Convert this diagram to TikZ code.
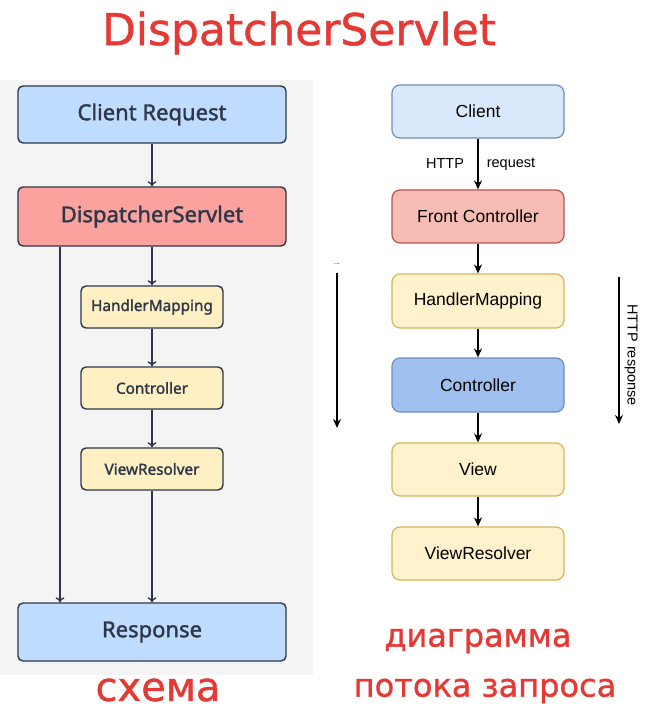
\documentclass[tikz,border=0pt]{standalone}
\usepackage{fontspec}
\setmainfont{Liberation Sans}
\newfontfamily\leftfont[FakeBold=1.6]{Noto Sans}
\newfontfamily\redfont[FakeBold=1.0]{DejaVu Sans}
\usetikzlibrary{arrows.meta}
\definecolor{redtxt}{HTML}{E53935}
\definecolor{bgpanel}{HTML}{F4F4F5}
\definecolor{slate}{HTML}{2D3748}
\definecolor{lblue}{HTML}{BFDBFE}
\definecolor{lred}{HTML}{FCA29E}
\definecolor{lyel}{HTML}{FEF0C3}
\definecolor{dblueF}{HTML}{DAE8FC}
\definecolor{dblueD}{HTML}{6C8EBF}
\definecolor{dredF}{HTML}{F7BDB5}
\definecolor{dredD}{HTML}{B85450}
\definecolor{dyelF}{HTML}{FFF2CC}
\definecolor{dyelD}{HTML}{D6B656}
\definecolor{dmidF}{HTML}{9FC0EE}
\tikzset{
  lbox/.style={draw=slate, line width=1.4pt, rounded corners=5pt, font=\leftfont\fontsize{22}{26}\selectfont, text=slate, inner sep=0pt},
  lsmall/.style={lbox, font=\leftfont\fontsize{15.3}{18}\selectfont},
  rbox/.style={line width=1.2pt, rounded corners=8pt, font=\fontsize{17.5}{21}\selectfont, text=black, inner sep=0pt},
  larrow/.style={draw=slate, line width=1.4pt, -{To[length=5pt,width=9pt]}},
  rarrow/.style={draw=black, line width=1.3pt, -{Stealth[length=9pt,width=8pt]}},
  redlabel/.style={text=redtxt, font=\redfont\fontsize{44}{50}\selectfont},
  redmid/.style={text=redtxt, font=\redfont\fontsize{40}{46}\selectfont},
  redsmall/.style={text=redtxt, font=\redfont\fontsize{32}{38}\selectfont},
  rlabel/.style={font=\fontsize{14.5}{17}\selectfont},
}
\begin{document}
\begin{tikzpicture}[x=1pt,y=-1pt]
\useasboundingbox (0,0) rectangle (658,719);
\fill[white] (0,0) rectangle (658,719);
\fill[bgpanel] (0,80) rectangle (313,675);
% title
\node[redlabel] (title) at (299,33) {DispatcherServlet};
% left diagram
\node[lbox, fill=lblue, minimum width=268pt, minimum height=57pt] (cr) at (152,114.5) {Client Request};
\node[lbox, fill=lred, minimum width=268pt, minimum height=59pt] (ds) at (152,216.5) {DispatcherServlet};
\node[lsmall, fill=lyel, minimum width=142pt, minimum height=42pt] (hm) at (152,307) {HandlerMapping};
\node[lsmall, fill=lyel, minimum width=142pt, minimum height=42pt] (ct) at (152,388) {Controller};
\node[lsmall, fill=lyel, minimum width=142pt, minimum height=42pt] (vr) at (152,469) {ViewResolver};
\node[lbox, fill=lblue, minimum width=268pt, minimum height=58pt] (rs) at (152,632) {Response};
\coordinate (lx) at (60,0);
\draw[larrow] (cr) -- (ds);
\draw[larrow] (ds) -- (hm);
\draw[larrow] (hm) -- (ct);
\draw[larrow] (ct) -- (vr);
\draw[larrow] (vr) -- (rs);
\draw[larrow] (ds.south -| lx) -- (rs.north -| lx);
\node[redmid] (schema) at (158,690) {схема};
% right diagram
\node[rbox, draw=dblueD, fill=dblueF, minimum width=172pt, minimum height=53pt] (cl) at (478,111.5) {Client};
\node[rbox, draw=dredD, fill=dredF, minimum width=172pt, minimum height=53pt] (fc) at (478,216.5) {Front Controller};
\node[rbox, draw=dyelD, fill=dyelF, minimum width=172pt, minimum height=54pt] (rhm) at (478,301) {HandlerMapping};
\node[rbox, draw=dblueD, fill=dmidF, minimum width=172pt, minimum height=54pt] (rct) at (478,385) {Controller};
\node[rbox, draw=dyelD, fill=dyelF, minimum width=172pt, minimum height=53pt] (vw) at (478,469.5) {View};
\node[rbox, draw=dyelD, fill=dyelF, minimum width=172pt, minimum height=53pt] (rvr) at (478,553.5) {ViewResolver};
\draw[rarrow] (cl) -- (fc);
\draw[rarrow] (fc) -- (rhm);
\draw[rarrow] (rhm) -- (rct);
\draw[rarrow] (rct) -- (vw);
\draw[rarrow] (vw) -- (rvr);
\node[rlabel] (http) at (445,164) {HTTP};
\node[rlabel] (req) at (511,164) {request};
\coordinate (la1) at (337,273);
\coordinate (la2) at (337,428);
\coordinate (ra1) at (619,277);
\coordinate (ra2) at (619,424);
\draw[rarrow] (la1) -- (la2);
\draw[rarrow] (ra1) -- (ra2);
\node[font=\fontsize{7}{8}\selectfont, inner sep=0pt] (dots) at (337,264) {...};
\node[rlabel, rotate=-90] (hresp) at (631,355) {HTTP response};
\node[redsmall] (diag) at (478,641) {диаграмма};
\node[redsmall] (flow) at (485,691) {потока запроса};
\end{tikzpicture}
\end{document}
